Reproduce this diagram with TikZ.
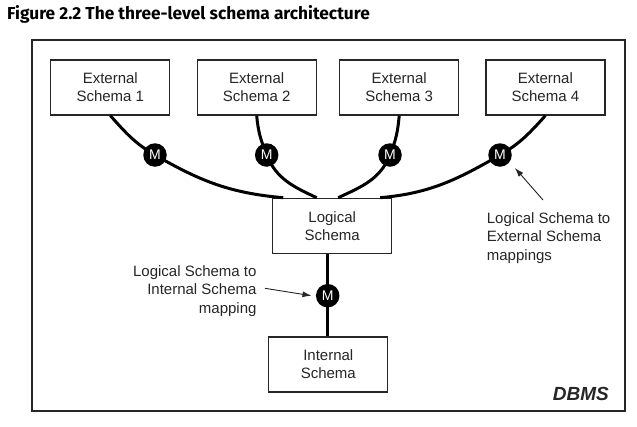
\documentclass[tikz,border=0pt]{standalone}
\usepackage{fontspec}
\setmainfont{Liberation Sans}
\newfontfamily\titlefont{Fira Sans}
\usetikzlibrary{arrows.meta}
\begin{document}
\begin{tikzpicture}[x=1pt,y=1pt,
  schemabox/.style={draw=black!85, line width=1.2pt, fill=white, minimum width=119pt, minimum height=55pt, align=center, font=\fontsize{15}{18}\selectfont, text=black!85, inner sep=0pt},
  mnode/.style={circle, fill=black, minimum size=23.5pt, inner sep=0pt, text=white, font=\fontsize{14}{14}\selectfont},
  link/.style={line width=3pt, black},
  note/.style={font=\fontsize{15}{18.5}\selectfont, text=black!85, inner sep=0pt},
  pointer/.style={line width=0.9pt, black!85, -{Latex[length=9pt,width=6pt]}}
]
\useasboundingbox (0,0) rectangle (637,-426);
\node[anchor=west, inner sep=0pt, font=\titlefont\bfseries\fontsize{17.3}{17.3}\selectfont] (title) at (7,-14) {Figure 2.2 The three-level schema architecture};
\node[draw=black!85, line width=2.4pt, minimum width=593pt, minimum height=371pt, inner sep=0pt] (frame) at (328.5,-225.5) {};

\node[schemabox] (e1) at (110.3,-87.5) {External\\Schema 1};
\node[schemabox] (e2) at (256.7,-87.5) {External\\Schema 2};
\node[schemabox] (e3) at (399.2,-87.5) {External\\Schema 3};
\node[schemabox] (e4) at (545.4,-87.5) {External\\Schema 4};
\node[schemabox] (logical) at (332.2,-225.8) {Logical\\Schema};
\node[schemabox] (internal) at (328.3,-364.5) {Internal\\Schema};

\coordinate (m1) at (155,-155);
\coordinate (m2) at (266.7,-155);
\coordinate (m3) at (390,-155);
\coordinate (m4) at (500,-155);
\coordinate (m5) at (327.7,-295.7);

\draw[link] (e1.south) to[out=-48,in=150] (m1) to[out=-30,in=175] ([xshift=-49pt]logical.north);
\draw[link] (e2.south) to[out=-85,in=112] (m2) to[out=-68,in=155] ([xshift=-15.5pt]logical.north);
\draw[link] (e3.south) to[out=-95,in=68] (m3) to[out=-112,in=25] ([xshift=6pt]logical.north);
\draw[link] (e4.south) to[out=-132,in=30] (m4) to[out=-150,in=5] ([xshift=48pt]logical.north);
\draw[link] (logical.south -| m5) -- (internal.north -| m5);

\node[mnode] (M1) at (m1) {M};
\node[mnode] (M2) at (m2) {M};
\node[mnode] (M3) at (m3) {M};
\node[mnode] (M4) at (m4) {M};
\node[mnode] (M5) at (m5) {M};

\node[note, align=right, anchor=east] (lnote) at (256.7,-291) {Logical Schema to\\Internal Schema\\mapping};
\coordinate (ltail) at (265,-288.3);
\draw[pointer] (ltail) -- ([xshift=-4.3pt]M5.west);

\node[note, align=left, anchor=west] (rnote) at (486.7,-238) {Logical Schema to\\External Schema\\mappings};
\coordinate (rtail) at (543,-200);
\coordinate (rtip) at (515,-168);
\draw[pointer] (rtail) -- (rtip);

\node[anchor=base east, font=\bfseries\itshape\fontsize{19}{19}\selectfont, inner sep=0pt, text=black!85] (dbms) at (609,-400) {DBMS};
\end{tikzpicture}
\end{document}
